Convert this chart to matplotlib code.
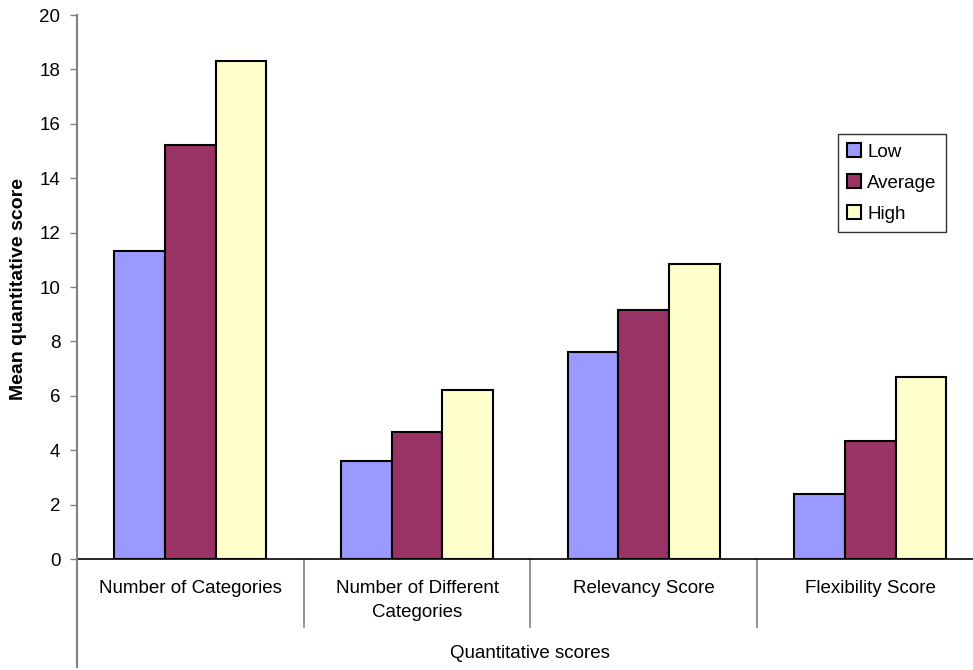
import numpy as np
import matplotlib.pyplot as plt

plt.rcParams['font.family'] = ['Liberation Sans', 'DejaVu Sans']

# Mean scores per group
categories = ['Number of Categories', 'Number of Different\nCategories',
              'Relevancy Score', 'Flexibility Score']
groups = ['Low', 'Average', 'High']
low = [11.32, 3.60, 7.62, 2.38]
average = [15.21, 4.67, 9.15, 4.35]
high = [18.31, 6.22, 10.86, 6.68]
colors = ['#9999FF', '#993366', '#FFFFCC']

W, H = 973, 670
fig = plt.figure(figsize=(W / 100, H / 100), dpi=100)
# plot area in pixels: left 77, top 15, bottom 559, category width ~226.7
ax = fig.add_axes([77 / W, (H - 559) / H, 906.7 / W, 544 / H])

x = np.arange(len(categories))
bw = 0.67 / 3
for i, (vals, name) in enumerate(zip([low, average, high], groups)):
    ax.bar(x + (i - 1) * bw, vals, width=bw, color=colors[i],
           edgecolor='black', linewidth=1.5, label=name, zorder=3)

ax.set_xlim(-0.5, 3.5)
ax.set_ylim(0, 20)
ax.set_yticks(np.arange(0, 21, 2))
ax.tick_params(axis='y', direction='out', length=5, width=1, color='#808080',
               pad=7, labelsize=13.5)
ax.set_xticks([])

for s in ['top', 'right', 'left']:
    ax.spines[s].set_visible(False)
ax.spines['bottom'].set_color('black')
ax.spines['bottom'].set_linewidth(1.2)

# y axis line runs down past the category labels
px = 1 / 544
ax.plot([-0.5, -0.5], [(559 - 667) * px, 1], transform=ax.get_xaxis_transform(),
        color='#808080', lw=1.5, clip_on=False, zorder=4)
# category dividers below the axis
for b in [0.5, 1.5, 2.5]:
    ax.plot([b, b], [(559 - 627) * px, 0], transform=ax.get_xaxis_transform(),
            color='#808080', lw=1.2, clip_on=False)

# category labels
for xi, lab in zip(x, categories):
    ax.text(xi, (559 - 580) * px, lab, transform=ax.get_xaxis_transform(),
            ha='center', va='top', fontsize=13.5, linespacing=1.55)

fig.text(530 / W, 1 - 654 / H, 'Quantitative scores', ha='center', va='center',
         fontsize=13.5)
fig.text(19 / W, 1 - 289 / H, 'Mean quantitative score', ha='center', va='center',
         rotation=90, fontsize=14, fontweight='bold')

leg = ax.legend(loc='upper left', bbox_to_anchor=(838 / W, 1 - 134 / H),
                bbox_transform=fig.transFigure, fontsize=13.5, frameon=True,
                fancybox=False, shadow=False, borderpad=0.5, labelspacing=0.72,
                handlelength=0.75, handleheight=0.75, handletextpad=0.3,
                borderaxespad=0)
leg.get_frame().set_edgecolor('black')
leg.get_frame().set_linewidth(1.0)
for h in leg.legend_handles:
    h.set_linewidth(1.5)

fig.savefig('out.png', dpi=100)
